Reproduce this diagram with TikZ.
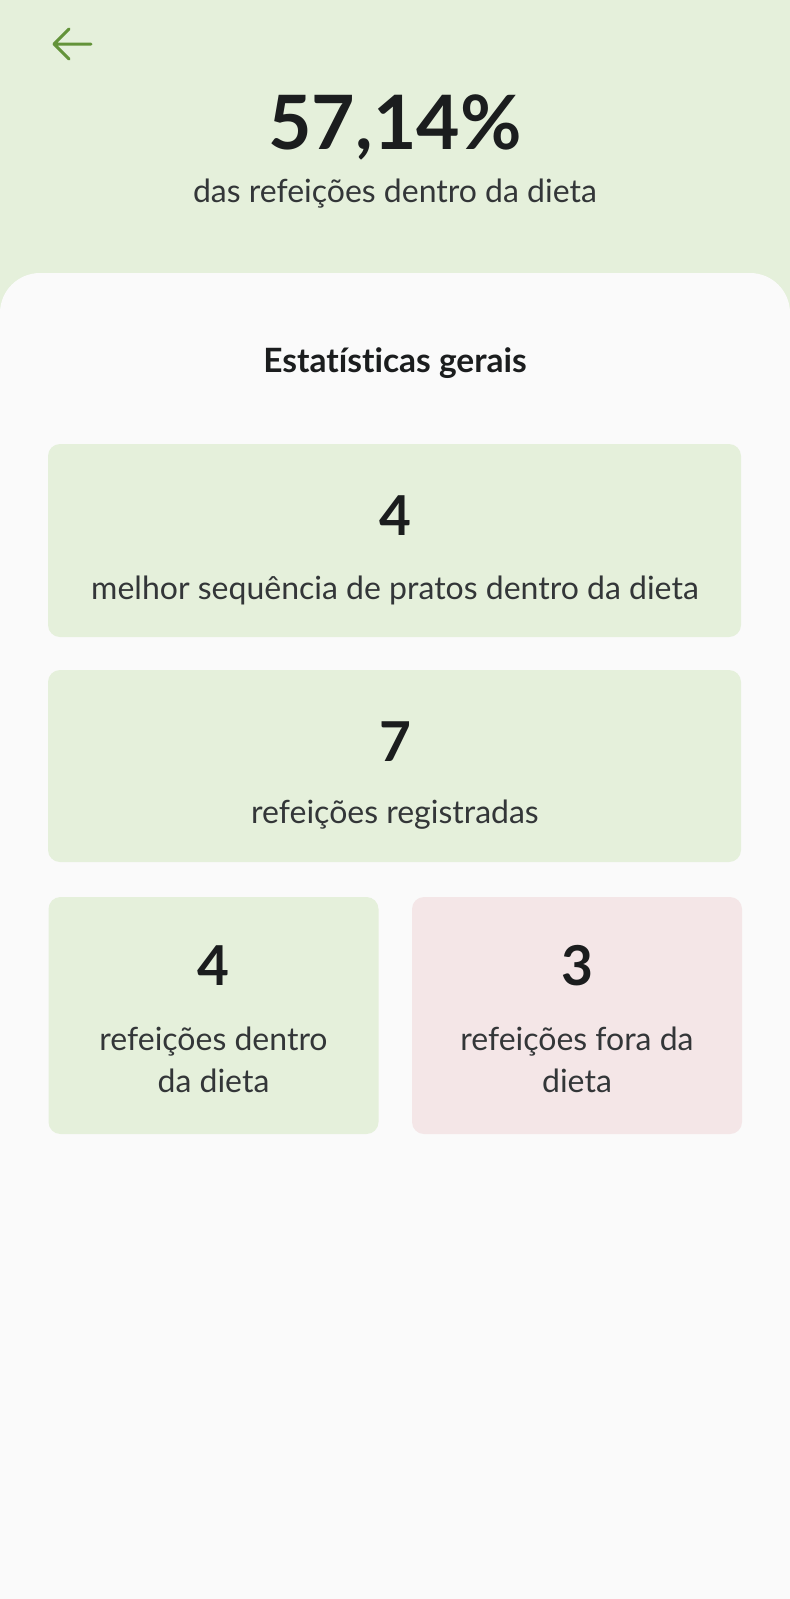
\documentclass[tikz,border=0pt]{standalone}
\usepackage{fontspec}
\setmainfont{Lato}[Ligatures={NoCommon}]
\usetikzlibrary{positioning}

\definecolor{greenlight}{HTML}{E5F0DB}
\definecolor{redlight}{HTML}{F4E6E7}
\definecolor{panelgray}{HTML}{FAFAFA}
\definecolor{textdark}{HTML}{1B1D1E}
\definecolor{textgray}{HTML}{333638}
\definecolor{greendark}{HTML}{639339}

\tikzset{
  card/.style={rounded corners=12pt, inner sep=0pt},
  bignum/.style={anchor=base, text=textdark, font=\fontsize{55}{60}\selectfont\bfseries},
  cardtext/.style={anchor=base, text=textgray, align=center, font=\fontsize{32}{42}\selectfont},
}

\begin{document}
\begin{tikzpicture}[x=1pt,y=-1pt]
\useasboundingbox (0,0) rectangle (790,1599);
% header and panel
\fill[greenlight] (0,0) rectangle (790,1599);
\fill[panelgray] (0,1599) [rounded corners=40pt] -- (0,273) -- (790,273) [sharp corners] -- (790,1599) -- cycle;
% back arrow
\coordinate (tip) at (54,44);
\draw[greendark, line width=3pt, line cap=round, line join=round]
  (91,44) -- (tip) (69,29) -- (tip) -- (69,59);
\node[anchor=base, text=textdark, font=\fontsize{75}{80}\selectfont\bfseries] (percent) at (395,149) {57,14\%};
\node[cardtext] (percentlabel) at (395,202) {das refeições dentro da dieta};
\node[anchor=base, text=textdark, font=\fontsize{33.5}{38}\selectfont\bfseries] (title) at (395,372) {Estatísticas gerais};

% cards
\node[card, fill=greenlight, minimum width=693pt, minimum height=193pt] (best) at (394.5,540.5) {};
\node[bignum] (bestnum) at (395,535) {4};
\node[cardtext] (besttext) at (395,599) {melhor sequência de pratos dentro da dieta};

\node[card, fill=greenlight, minimum width=693pt, minimum height=192pt] (total) at (394.5,766) {};
\node[bignum] (totalnum) at (395,761) {7};
\node[cardtext] (totaltext) at (395,823) {refeições registradas};

\node[card, fill=greenlight, minimum width=330pt, minimum height=237pt] (inside) at (213.5,1015.5) {};
\node[bignum] (insidenum) at (213.5,985) {4};
\node[cardtext] (insidetext) at (213.5,1092) {refeições dentro\\da dieta};

\node[card, fill=redlight, minimum width=330pt, minimum height=237pt] (outside) at (577,1015.5) {};
\node[bignum] (outsidenum) at (577,985) {3};
\node[cardtext] (outsidetext) at (577,1092) {refeições fora da\\dieta};
\end{tikzpicture}
\end{document}
